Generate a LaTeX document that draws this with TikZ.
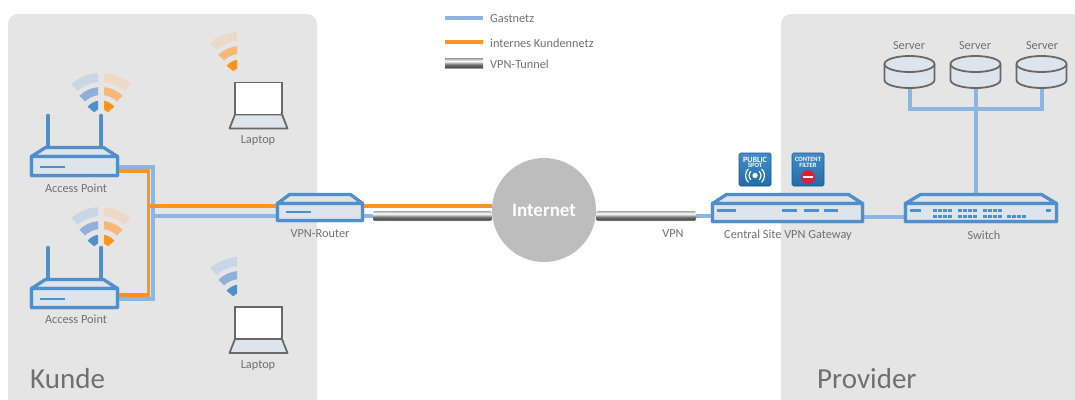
\documentclass[tikz,border=0pt]{standalone}
\usepackage{fontspec}
\setmainfont{Carlito}
\definecolor{panelgray}{HTML}{E5E5E5}
\definecolor{gastblue}{HTML}{8DB5E2}
\definecolor{kundeorange}{HTML}{FF9320}
\definecolor{devblue}{HTML}{4E8FCC}
\definecolor{devfill}{HTML}{DDE4EC}
\definecolor{textgray}{HTML}{707070}
\definecolor{linegray}{HTML}{686868}
\definecolor{cloudgray}{HTML}{BDBDBD}
\definecolor{iconblue}{HTML}{2478BC}
\definecolor{iconred}{HTML}{DD1F33}
\definecolor{waveblueA}{HTML}{4E8FCC}
\definecolor{waveblueB}{HTML}{8FB1D9}
\definecolor{waveblueC}{HTML}{C9D6E5}
\definecolor{waveorangeA}{HTML}{FF9320}
\definecolor{waveorangeB}{HTML}{F6B878}
\definecolor{waveorangeC}{HTML}{EDD9C6}
\pgfdeclareverticalshading{tunnelshade}{100bp}{
  color(0bp)=(black!75); color(12bp)=(black!75); color(22bp)=(white); color(32bp)=(black!70);
  color(45bp)=(black!55); color(62bp)=(white); color(75bp)=(black!35);
  color(88bp)=(black!75); color(100bp)=(black!75)}
\tikzset{
  panel/.style={fill=panelgray,rounded corners=10pt},
  lbl/.style={text=textgray,font=\fontsize{12.3}{14}\selectfont,inner sep=0pt,yshift=-1pt},
  biglbl/.style={text=textgray,font=\fontsize{29}{32}\selectfont,inner sep=0pt,anchor=west},
  devbody/.style={draw=devblue,line width=3.3pt,fill=devfill,rounded corners=0.5pt,inner sep=0pt,outer sep=0pt,minimum height=19pt},
  devmark/.style={devblue,line width=2pt},
  antenna/.style={devblue,line width=3.5pt,line cap=round},
  gastnetz/.style={gastblue,line width=4pt},
  kundennetz/.style={kundeorange,line width=3.6pt},
  tunnelpipe/.style={shading=tunnelshade,rounded corners=2pt},
  portbox/.style={fill=devblue},
  iconbox/.style={draw=iconblue!75!black,line width=0.6pt,rounded corners=1.5pt,top color=iconblue!85!white,bottom color=iconblue!90!black,minimum width=32pt,minimum height=33pt,inner sep=0pt},
  icontext/.style={text=white,inner sep=0pt},
  serverspot/.style={inner sep=0pt,outer sep=0pt,minimum width=50pt,minimum height=32pt},
  serverline/.style={draw=linegray,line width=1.8pt,fill=devfill},
  pics/wave/.style n args={4}{code={
    \foreach \rin/\rout/\wid/\col in {9/17.5/50/#2,23/31/44/#3,36/45/41/#4} {
      \pgfmathsetmacro{\ain}{-90-#1*asin(3/\rin)}
      \pgfmathsetmacro{\aout}{-90-#1*asin(3/\rout)}
      \pgfmathsetmacro{\aend}{-90-#1*\wid}
      \fill[\col] (\ain:\rin) -- (\aout:\rout) arc[start angle=\aout,end angle=\aend,radius=\rout] -- (\aend:\rin) arc[start angle=\aend,end angle=\ain,radius=\rin] -- cycle;
    }
  }},
  pics/laptop/.style={code={
    \draw[linegray,line width=1.8pt,fill=devfill,line join=round] (-23.5,32) -- (-29,46) -- (29,46) -- (23.5,32) -- cycle;
    \draw[linegray,line width=1.8pt,fill=white] (-23.5,0) rectangle (23.5,32);
  }},
}
\newcommand{\hood}[3]{\draw[devblue,line width=3.3pt,fill=devfill,line join=round] (#1.north west) -- ++(#2,-#3) -- ([shift={(-#2,-#3)}]#1.north east) -- (#1.north east) -- cycle;}
\newcommand{\drum}[1]{
  \draw[serverline] ([yshift=-8pt]#1.north west) -- ++(0,16) arc[start angle=180,end angle=0,x radius=25,y radius=8] -- ++(0,-16);
  \draw[serverline] ([yshift=8pt]#1.center) ellipse [x radius=25,y radius=8];
}
\begin{document}
\begin{tikzpicture}[x=1pt,y=-1pt]
\useasboundingbox (0,0) rectangle (1075,399);
\clip (0,0) rectangle (1075,399);
\fill[white] (0,0) rectangle (1075,399);
% panels
\fill[panel] (8,14) rectangle (317,420);
\fill[panel] (781,14) rectangle (1100,420);
\node[biglbl] (kunde) at (30,379) {Kunde};
\node[biglbl] (provider) at (817,379) {Provider};
% legend
\coordinate (lg1) at (445,18);
\coordinate (lg1e) at (483,18);
\coordinate (lg2) at (445,42);
\coordinate (lg2e) at (483,42);
\coordinate (lg3) at (445,63.5);
\coordinate (lg3e) at (483,63.5);
\draw[gastnetz] (lg1) -- (lg1e);
\draw[kundennetz] (lg2) -- (lg2e);
\shade[shading=tunnelshade] ([yshift=5pt]lg3) rectangle ([yshift=-5pt]lg3e);
\node[lbl,anchor=west] (lggast) at (490,18) {Gastnetz};
\node[lbl,anchor=west] (lgkunde) at (490,42) {internes Kundennetz};
\node[lbl,anchor=west] (lgtunnel) at (490,63.5) {VPN-Tunnel};
% nodes
\node[devbody,minimum width=86pt] (ap1) at (74.5,166) {};
\node[devbody,minimum width=86pt] (ap2) at (74.5,298) {};
\node[devbody,minimum width=85pt,minimum height=17pt] (router) at (320,212) {};
\node[devbody,minimum width=150pt,minimum height=18pt] (gateway) at (787.5,212.5) {};
\node[devbody,minimum width=151pt,minimum height=18pt] (switch) at (981,212.5) {};
\node[serverspot] (srv1) at (909.5,72) {};
\node[serverspot] (srv2) at (975.5,72) {};
\node[serverspot] (srv3) at (1041.5,72) {};
\coordinate (ojoin) at (148.5,206);
\coordinate (bjoin) at (152.5,216);
\coordinate (tunnelL) at (373,216);
\coordinate (tunnelR) at (696,216);
\coordinate (srvbus) at (975.5,109);
% connectors
\draw[gastnetz] ([yshift=-1pt]ap1.east) -| (bjoin);
\draw[gastnetz] ([yshift=-1pt]ap2.east) -| (bjoin);
\draw[gastnetz] (bjoin) -- (bjoin -| router.west);
\draw[gastnetz] (bjoin -| router.east) -- (tunnelL);
\draw[kundennetz] ([yshift=-5pt]ap1.east) -| (ojoin);
\draw[kundennetz] ([yshift=3pt]ap2.east) -| (ojoin);
\draw[kundennetz] (ojoin) -- (ojoin -| router.west);
\node[circle,fill=cloudgray,minimum size=104pt,inner sep=0pt,outer sep=0pt,text=white,font=\bfseries\fontsize{19}{21}\selectfont] (internet) at (544,210) {Internet};
\draw[kundennetz] (ojoin -| router.east) -- (ojoin -| internet.west);
\draw[gastnetz] (tunnelR) -- (tunnelR -| gateway.west);
\draw[gastnetz] ([yshift=-4pt]gateway.east) -- ([yshift=-4pt]switch.west);
\draw[gastnetz] (srv1.south) |- (srvbus);
\draw[gastnetz] (srv3.south) |- (srvbus);
\draw[gastnetz] (srv2.south) -- (srv2.south |- switch.north);
% vpn tunnel
\shade[tunnelpipe] ([yshift=5pt]tunnelL) rectangle ([yshift=-5pt]tunnelL -| internet.west);
\shade[tunnelpipe] ([yshift=5pt]tunnelR) rectangle ([yshift=-5pt]tunnelR -| internet.east);
% device tops
\hood{ap1}{14}{9}
\hood{ap2}{14}{9}
\hood{router}{12}{9}
\hood{gateway}{14}{9}
\hood{switch}{15}{9}
\node[devbody,minimum width=86pt] (ap1b) at (ap1) {};
\node[devbody,minimum width=86pt] (ap2b) at (ap2) {};
\node[devbody,minimum width=85pt,minimum height=17pt] (routerb) at (router) {};
\node[devbody,minimum width=150pt,minimum height=18pt] (gatewayb) at (gateway) {};
\node[devbody,minimum width=151pt,minimum height=18pt] (switchb) at (switch) {};
\drum{srv1}
\drum{srv2}
\drum{srv3}
\foreach \dev in {ap1,ap2} {
  \draw[antenna] ([shift={(-26.5,-9)}]\dev.north) -- ++(0,-32);
  \draw[antenna] ([shift={(26.5,-9)}]\dev.north) -- ++(0,-32);
  \draw[devmark] ([shift={(8,1)}]\dev.west) -- ++(25,0);
}
\draw[devmark] ([shift={(8,0)}]router.west) -- ++(25,0);
\foreach \xa/\xb in {717/736,782/797,804/819,824/838}
  \draw[devmark,line width=3pt] (\xa,210) -- (\xb,210);
\draw[devmark,line width=3pt] (910,210) -- (921,210);
\draw[devmark,line width=3pt] (1046,210) -- (1051,210);
\foreach \xs in {933,958,983}
  \foreach \i in {0,1,2,3}
    \foreach \ys in {208.5,214.5}
      \fill[portbox] (\xs+\i*5,\ys) rectangle ++(3.8,3.5);
\foreach \i in {0,1,2,3}
  \fill[portbox] (1007+\i*5,214.5) rectangle ++(3.8,3.5);
% wifi
\pic at (101,118) {wave={1}{waveblueA}{waveblueB}{waveblueC}};
\pic at (101,118) {wave={-1}{waveorangeA}{waveorangeB}{waveorangeC}};
\pic at (101,252) {wave={1}{waveblueA}{waveblueB}{waveblueC}};
\pic at (101,252) {wave={-1}{waveorangeA}{waveorangeB}{waveorangeC}};
\pic at (240,77) {wave={1}{waveorangeA}{waveorangeB}{waveorangeC}};
\pic at (240,302) {wave={1}{waveblueA}{waveblueB}{waveblueC}};
% laptops
\pic at (258.5,82.5) {laptop};
\pic at (258.5,307) {laptop};
% icons
\node[iconbox] (spot) at (755,169.5) {};
\node[iconbox] (filter) at (808,169.5) {};
\node[icontext,font=\bfseries\fontsize{8}{9}\selectfont] (spotA) at (755,159.5) {PUBLIC};
\node[icontext,font=\bfseries\fontsize{6.5}{7}\selectfont] (spotB) at (755,165.5) {SPOT};
\fill[white] (755,175.5) circle (2.6);
\foreach \r in {6,9.5}{
  \draw[white,line width=1.2pt] (755+\r*0.7,175.5-\r*0.7) arc[start angle=-45,end angle=45,radius=\r];
  \draw[white,line width=1.2pt] (755-\r*0.7,175.5-\r*0.7) arc[start angle=-135,end angle=-225,radius=\r];
}
\node[icontext,font=\bfseries\fontsize{6.5}{7}\selectfont] (filterA) at (808,159) {CONTENT};
\node[icontext,font=\bfseries\fontsize{6.5}{7}\selectfont] (filterB) at (808,165) {FILTER};
\fill[iconred] (808,177) circle (7);
\fill[white] (803,175.8) rectangle (813,178.2);
% labels
\node[lbl] (lblap1) at (76,187) {Access Point};
\node[lbl] (lblap2) at (76,318) {Access Point};
\node[lbl] (lbllap1) at (258,140) {Laptop};
\node[lbl] (lbllap2) at (258,365) {Laptop};
\node[lbl] (lblrouter) at (320,233) {VPN-Router};
\node[lbl] (lblvpn) at (673,233) {VPN};
\node[lbl] (lblgate) at (788,234) {Central Site VPN Gateway};
\node[lbl] (lblswitch) at (984,234) {Switch};
\node[lbl] (lblsrv1) at (909,45) {Server};
\node[lbl] (lblsrv2) at (975,45) {Server};
\node[lbl] (lblsrv3) at (1042,45) {Server};
\end{tikzpicture}
\end{document}
